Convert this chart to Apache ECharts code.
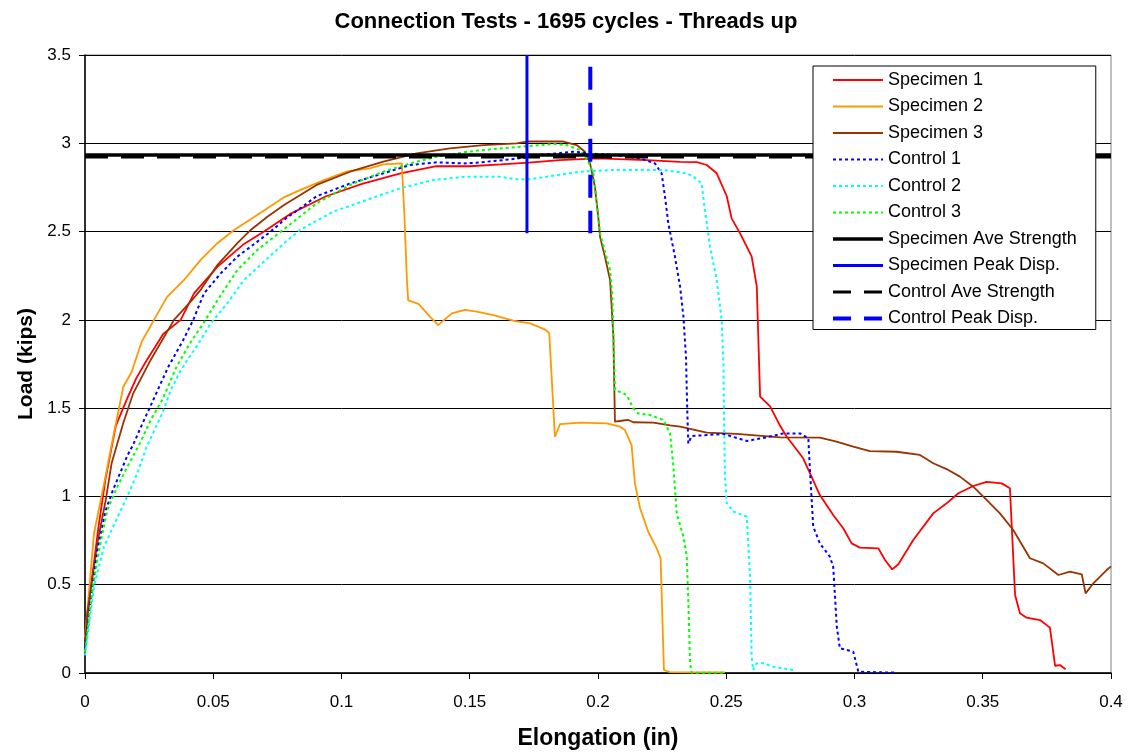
<!DOCTYPE html>
<html><head><meta charset="utf-8">
<script src="https://cdn.jsdelivr.net/npm/echarts@6/dist/echarts.min.js"></script>
<style>html,body{margin:0;padding:0;background:#fff}#c{width:1132px;height:755px}</style>
</head><body><div id="c"></div>
<script>
const spec1 = [[0,0.18],[0.002,0.45],[0.005,0.8],[0.008,1.1],[0.012,1.4],[0.0163,1.55],[0.02,1.67],[0.024,1.77],[0.0305,1.92],[0.0373,2.0],[0.0425,2.15],[0.0516,2.30],[0.062,2.43],[0.0698,2.5],[0.080,2.60],[0.094,2.70],[0.108,2.77],[0.123,2.83],[0.137,2.87],[0.150,2.87],[0.162,2.88],[0.173,2.89],[0.185,2.905],[0.20,2.915],[0.219,2.905],[0.232,2.895],[0.2385,2.893],[0.2424,2.877],[0.2463,2.83],[0.2502,2.70],[0.2521,2.575],[0.2554,2.49],[0.2599,2.36],[0.2619,2.19],[0.2632,1.565],[0.2671,1.51],[0.271,1.40],[0.2736,1.338],[0.2800,1.216],[0.2865,1.008],[0.2917,0.895],[0.2956,0.82],[0.2989,0.734],[0.3021,0.71],[0.3093,0.706],[0.3119,0.64],[0.3147,0.587],[0.3171,0.616],[0.3229,0.753],[0.3307,0.904],[0.3359,0.961],[0.3405,1.018],[0.3463,1.059],[0.3515,1.083],[0.3574,1.074],[0.3606,1.046],[0.3626,0.442],[0.3645,0.338],[0.3671,0.313],[0.3723,0.30],[0.3762,0.257],[0.3782,0.041],[0.3801,0.045],[0.3823,0.021]];
const spec2 = [[0,0.2],[0.0015,0.45],[0.0035,0.79],[0.0074,1.07],[0.0113,1.36],[0.0139,1.546],[0.0149,1.62],[0.0182,1.706],[0.0221,1.876],[0.0269,2.0],[0.032,2.13],[0.0386,2.226],[0.0451,2.34],[0.0516,2.434],[0.0581,2.509],[0.0646,2.57],[0.0711,2.632],[0.0776,2.694],[0.0838,2.735],[0.0929,2.79],[0.102,2.839],[0.111,2.858],[0.1163,2.88],[0.1235,2.886],[0.1245,2.6],[0.1255,2.226],[0.126,2.11],[0.13,2.09],[0.1345,2.018],[0.1377,1.97],[0.143,2.037],[0.1481,2.056],[0.1527,2.046],[0.1592,2.027],[0.167,1.995],[0.1735,1.98],[0.1793,1.946],[0.181,1.924],[0.1832,1.338],[0.1852,1.41],[0.193,1.418],[0.2034,1.414],[0.2086,1.395],[0.2105,1.376],[0.2131,1.29],[0.2144,1.074],[0.2164,0.933],[0.2196,0.80],[0.2229,0.706],[0.2244,0.65],[0.2257,0.017],[0.228,0.005],[0.235,0.004],[0.245,0.003],[0.2495,0.003]];
const spec3 = [[0,0.15],[0.0009,0.34],[0.0048,0.736],[0.0081,0.98],[0.0104,1.19],[0.0149,1.414],[0.0188,1.584],[0.0256,1.773],[0.0347,2.0],[0.041,2.10],[0.0451,2.17],[0.0516,2.31],[0.0594,2.434],[0.0646,2.509],[0.0711,2.584],[0.0776,2.65],[0.0903,2.764],[0.1033,2.839],[0.1163,2.896],[0.1293,2.943],[0.1423,2.971],[0.1553,2.99],[0.1683,3.0],[0.1722,3.01],[0.1865,3.01],[0.1917,2.99],[0.1949,2.952],[0.1969,2.886],[0.1988,2.754],[0.2001,2.584],[0.2008,2.47],[0.2027,2.358],[0.2047,2.226],[0.206,1.905],[0.2066,1.424],[0.2099,1.43],[0.2118,1.433],[0.2138,1.42],[0.2216,1.418],[0.2281,1.403],[0.232,1.395],[0.2424,1.361],[0.2541,1.354],[0.271,1.335],[0.2865,1.333],[0.293,1.31],[0.2995,1.282],[0.306,1.257],[0.3164,1.253],[0.3255,1.235],[0.3307,1.188],[0.3359,1.155],[0.3411,1.112],[0.3463,1.055],[0.3515,0.98],[0.3567,0.904],[0.3619,0.81],[0.3684,0.65],[0.3736,0.621],[0.3795,0.555],[0.384,0.574],[0.3886,0.559],[0.3901,0.451],[0.3931,0.508],[0.3983,0.583],[0.4,0.604]];
const ctrl1 = [[0,0.15],[0.0022,0.413],[0.0048,0.697],[0.0081,0.923],[0.011,1.04],[0.0139,1.14],[0.0165,1.23],[0.019,1.30],[0.022,1.40],[0.026,1.527],[0.0325,1.735],[0.0383,1.886],[0.0422,2.0],[0.0464,2.15],[0.0529,2.263],[0.0594,2.358],[0.0672,2.443],[0.0724,2.5],[0.0776,2.566],[0.0903,2.70],[0.1033,2.772],[0.1163,2.83],[0.1267,2.877],[0.1371,2.892],[0.1475,2.886],[0.1527,2.89],[0.1631,2.905],[0.1722,2.92],[0.1774,2.934],[0.1904,2.952],[0.1995,2.94],[0.206,2.934],[0.2164,2.915],[0.2222,2.886],[0.2248,2.83],[0.2261,2.70],[0.2274,2.547],[0.23,2.358],[0.232,2.188],[0.2333,2.018],[0.2343,1.791],[0.2348,1.49],[0.2352,1.30],[0.2365,1.342],[0.2489,1.354],[0.258,1.314],[0.2658,1.335],[0.2722,1.357],[0.2788,1.357],[0.282,1.329],[0.2827,1.131],[0.2839,0.829],[0.2865,0.734],[0.2904,0.659],[0.2917,0.602],[0.2931,0.262],[0.2943,0.14],[0.2995,0.121],[0.3015,0.007],[0.3164,0.002]];
const ctrl2 = [[0,0.1],[0.0035,0.489],[0.0074,0.715],[0.0126,0.88],[0.0165,1.0],[0.0204,1.131],[0.024,1.28],[0.0301,1.47],[0.0334,1.6],[0.037,1.706],[0.0399,1.773],[0.0435,1.848],[0.049,1.98],[0.0555,2.094],[0.062,2.226],[0.0698,2.33],[0.0776,2.434],[0.0838,2.509],[0.0968,2.613],[0.1098,2.679],[0.1228,2.745],[0.1358,2.792],[0.1488,2.811],[0.1618,2.81],[0.1683,2.796],[0.1735,2.796],[0.18,2.811],[0.193,2.839],[0.206,2.849],[0.2255,2.849],[0.2346,2.83],[0.2372,2.811],[0.2404,2.773],[0.2417,2.62],[0.2437,2.414],[0.2463,2.226],[0.2482,2.0],[0.2489,1.754],[0.2492,1.376],[0.2495,1.112],[0.2502,0.961],[0.2528,0.914],[0.258,0.885],[0.2593,0.545],[0.2599,0.092],[0.2605,0.017],[0.2619,0.055],[0.2644,0.055],[0.2683,0.036],[0.2761,0.017]];
const ctrl3 = [[0,0.12],[0.0029,0.47],[0.0055,0.697],[0.0087,0.923],[0.0126,1.055],[0.0165,1.168],[0.0214,1.30],[0.0256,1.433],[0.0301,1.546],[0.0357,1.735],[0.0409,1.867],[0.0461,1.98],[0.0516,2.11],[0.0594,2.282],[0.0672,2.396],[0.0737,2.47],[0.0799,2.54],[0.0903,2.66],[0.1033,2.764],[0.1163,2.839],[0.1267,2.886],[0.1371,2.924],[0.1488,2.952],[0.1618,2.971],[0.1735,2.985],[0.1826,2.996],[0.1878,2.99],[0.193,2.962],[0.1962,2.896],[0.1982,2.83],[0.1995,2.66],[0.2008,2.49],[0.2047,2.282],[0.2056,2.13],[0.2066,1.603],[0.2099,1.584],[0.2112,1.574],[0.2138,1.499],[0.2157,1.47],[0.2203,1.461],[0.2255,1.433],[0.2281,1.357],[0.2294,1.168],[0.2307,0.904],[0.2333,0.772],[0.2346,0.659],[0.2352,0.413],[0.2359,0.055],[0.2365,0.002],[0.2489,0.002]];
const specAve = [[0,2.934],[0.4,2.934]];
const ctrlAve = [[0,2.922],[0.4,2.922]];
const specPeak = [[0.1723,3.5],[0.1723,2.49]];
const ctrlPeak = [[0.197,3.434],[0.197,2.49]];
const seriesNames = ['Specimen 1','Specimen 2','Specimen 3','Control 1','Control 2','Control 3','Specimen Ave Strength','Specimen Peak Disp.','Control Ave Strength','Control Peak Disp.'];

const FONT = 'Liberation Sans, Arial, sans-serif';
const styles = {
  'Specimen 1':{color:'#FF0000', width:1.8, type:'solid', z:2},
  'Specimen 2':{color:'#FF9900', width:1.8, type:'solid', z:2},
  'Specimen 3':{color:'#993300', width:1.8, type:'solid', z:2},
  'Control 1':{color:'#0000FF', width:2, type:[3,3], z:2},
  'Control 2':{color:'#00FFFF', width:2, type:[3,3], z:2},
  'Control 3':{color:'#00FF00', width:2, type:[3,3], z:2},
  'Specimen Ave Strength':{color:'#000000', width:3.5, type:'solid', z:4},
  'Specimen Peak Disp.':{color:'#0000FF', width:3, type:'solid', z:4},
  'Control Ave Strength':{color:'#000000', width:3, type:[23,13], z:3},
  'Control Peak Disp.':{color:'#0000FF', width:4, type:[23,13], z:4}
};
const dataByName = {'Specimen 1':spec1,'Specimen 2':spec2,'Specimen 3':spec3,'Control 1':ctrl1,'Control 2':ctrl2,'Control 3':ctrl3,
  'Specimen Ave Strength':specAve,'Specimen Peak Disp.':specPeak,'Control Ave Strength':ctrlAve,'Control Peak Disp.':ctrlPeak};

const chart = echarts.init(document.getElementById('c'), null, {renderer:'canvas'});
chart.setOption({
  animation:false,
  backgroundColor:'#fff',
  title:{text:'Connection Tests - 1695 cycles - Threads up', left:'center', top:6,
    textStyle:{fontFamily:FONT, fontSize:22, fontWeight:'bold', color:'#000'}},
  grid:{left:85, right:21, top:55, bottom:82, show:true, borderColor:'#808080', borderWidth:1, backgroundColor:'transparent'},
  legend:{orient:'vertical', left:813, top:66, z:20, itemWidth:50, itemHeight:16, itemGap:8.5,
    data:seriesNames.map(n => ({name:n, itemStyle:{opacity:0},
      lineStyle:{color:styles[n].color, width:Math.min(styles[n].width, 4), type:styles[n].type === 'solid' ? 'solid' : (styles[n].width >= 3 ? [18,13] : [3,3]), cap:'butt'}})),
    padding:[5,19,2,18], borderColor:'#000', borderWidth:1, backgroundColor:'#fff',
    itemStyle:{opacity:0},
    textStyle:{fontFamily:FONT, fontSize:18, color:'#000'}, selectedMode:false},
  xAxis:{type:'value', min:0, max:0.4, interval:0.05, name:'Elongation (in)', nameLocation:'middle', nameGap:54,
    nameTextStyle:{fontFamily:FONT, fontSize:23, fontWeight:'bold', color:'#000'},
    axisLine:{show:true, onZero:false, lineStyle:{color:'#000', width:1.5}},
    axisTick:{show:true, inside:false, length:6, lineStyle:{color:'#000'}},
    axisLabel:{fontFamily:FONT, fontSize:17, color:'#000', margin:21},
    splitLine:{show:false}},
  yAxis:{type:'value', min:0, max:3.5, interval:0.5, name:'Load (kips)', nameLocation:'middle', nameGap:48,
    nameTextStyle:{fontFamily:FONT, fontSize:21, fontWeight:'bold', color:'#000'},
    axisLine:{show:true, onZero:false, lineStyle:{color:'#000', width:1.5}},
    axisTick:{show:true, inside:false, length:6, lineStyle:{color:'#000'}},
    axisLabel:{fontFamily:FONT, fontSize:17, color:'#000', margin:14},
    splitLine:{show:true, lineStyle:{color:'#000', width:1}}},
  series: seriesNames.map(n => ({name:n, type:'line', data:dataByName[n], symbol:'none', showSymbol:false, clip:true, z:styles[n].z,
    lineStyle:{color:styles[n].color, width:styles[n].width, type:styles[n].type, cap:'butt'},
    itemStyle:{color:styles[n].color}, emphasis:{disabled:true}}))
});
</script></body></html>
